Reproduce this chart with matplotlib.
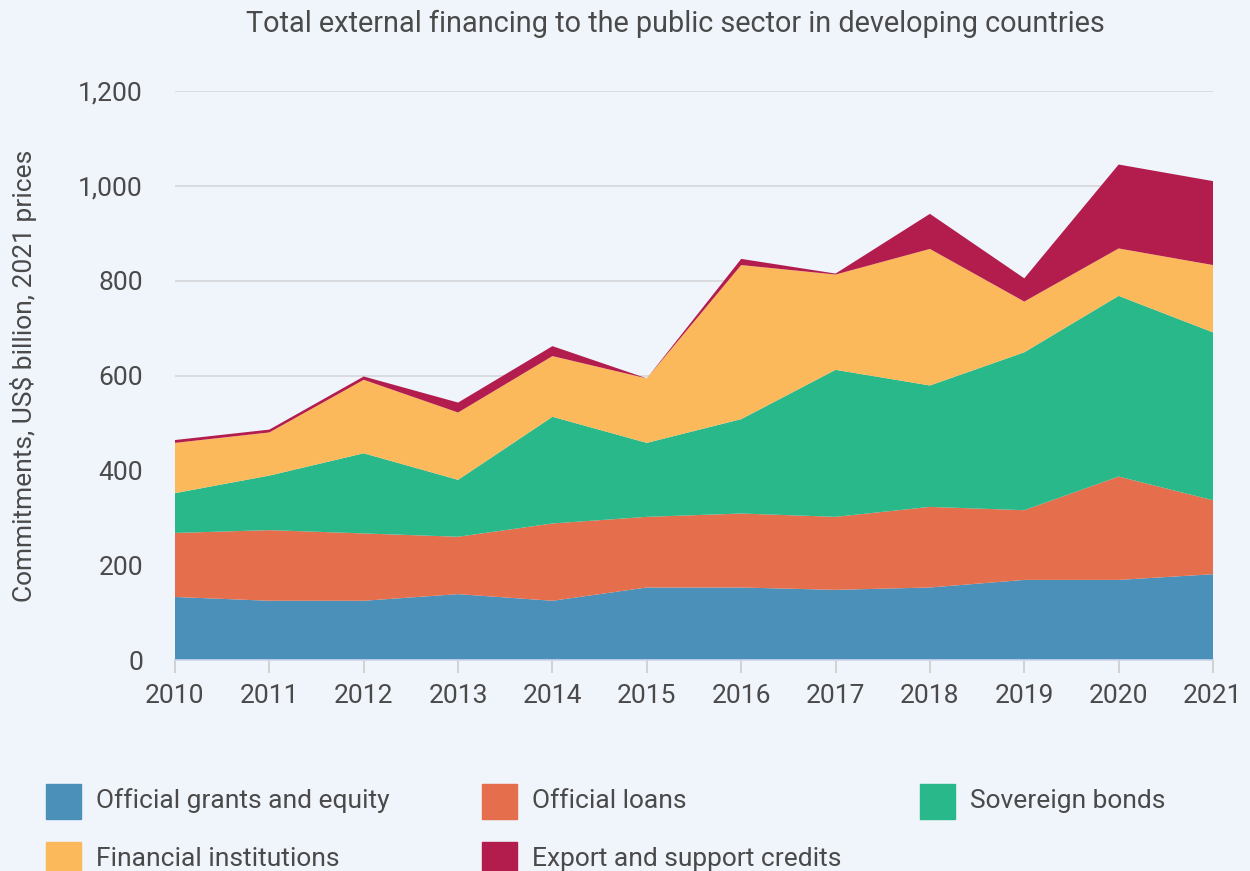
import matplotlib
matplotlib.use("Agg")
import matplotlib.pyplot as plt
from matplotlib.patches import Rectangle
import numpy as np

years = [2010, 2011, 2012, 2013, 2014, 2015, 2016, 2017, 2018, 2019, 2020, 2021]
grants = [133, 125, 125, 139, 125, 153, 153, 148, 153, 169, 169, 181]
loans = [135, 149, 142, 121, 163, 149, 156, 154, 170, 147, 218, 156]
bonds = [84, 115, 169, 120, 225, 156, 199, 310, 256, 333, 381, 354]
fin_inst = [106, 91, 155, 142, 128, 136, 325, 201, 288, 107, 100, 142]
export = [6, 6, 7, 21, 21, 0, 13, 2, 74, 49, 177, 177]

labels = ["Official grants and equity", "Official loans", "Sovereign bonds",
          "Financial institutions", "Export and support credits"]
colors = ["#4a90b9", "#e56e4d", "#29b889", "#fcb95b", "#b31d4e"]
yticks = [0, 200, 400, 600, 800, 1000, 1200]
ytick_labels = ["0", "200", "400", "600", "800", "1,000", "1,200"]

bg = "#f0f4fb"
txt = "#4a4a4a"
plt.rcParams['font.family'] = ['Roboto', 'DejaVu Sans']

fig = plt.figure(figsize=(12.5, 8.71), dpi=100, facecolor=bg)
ax = fig.add_axes([0.14, 0.2422, 0.8304, 0.6533], facecolor=bg)

ax.stackplot(years, grants, loans, bonds, fin_inst, export, colors=colors,
             linewidth=0, edgecolor='none')

ax.set_xlim(2010, 2021)
ax.set_ylim(0, 1200)
ax.set_yticks(yticks)
ax.set_yticklabels(ytick_labels)
ax.set_xticks(years)
ax.set_xticklabels([str(y) for y in years])
ax.yaxis.grid(True, color="#d5d7da", linewidth=1.2)
ax.set_axisbelow(True)
for s in ["top", "right", "left"]:
    ax.spines[s].set_visible(False)
ax.spines["bottom"].set_color("#ccd6eb")
ax.spines["bottom"].set_linewidth(1.2)
ax.tick_params(axis='y', length=0, labelsize=19, labelcolor=txt, pad=23)
ax.tick_params(axis='x', length=9, width=1.2, color="#cccccc", labelsize=19,
               labelcolor=txt, pad=8)
ax.set_ylabel("Commitments, US$ billion, 2021 prices", fontsize=19, color=txt)
ax.yaxis.set_label_coords(-0.133, 0.5)

fig.text(0.54, 0.973, "Total external financing to the public sector in developing countries",
         ha='center', va='center', fontsize=20.8, color=txt)

# legend
pos = [(46, 801), (482, 801), (920, 801), (46, 859), (482, 859)]
for (x, y), lab, col in zip(pos, labels, colors):
    fig.patches.append(Rectangle((x / 1250, 1 - (y + 18) / 871), 35 / 1250, 35 / 871,
                                 transform=fig.transFigure, color=col))
    fig.text((x + 50) / 1250, 1 - y / 871, lab, ha='left', va='center',
             fontsize=19, color=txt)

fig.savefig("out.png", dpi=100, facecolor=bg)
